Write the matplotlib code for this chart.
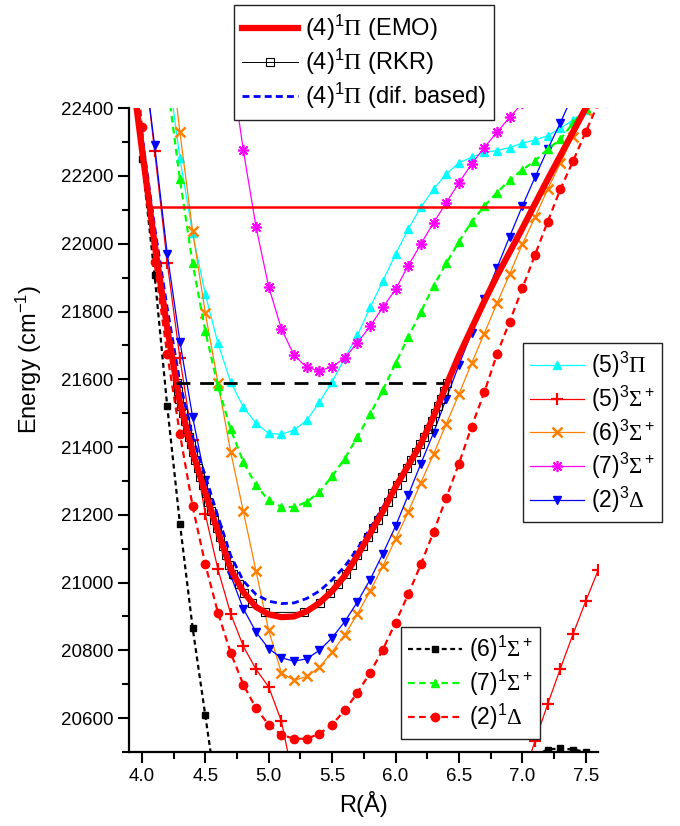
import numpy as np
import matplotlib
matplotlib.use("Agg")
import matplotlib.pyplot as plt
from matplotlib.lines import Line2D
from matplotlib.ticker import MultipleLocator, FormatStrFormatter

plt.rcParams["font.family"] = ["Liberation Sans", "DejaVu Sans"]
plt.rcParams["mathtext.fontset"] = "custom"
plt.rcParams["mathtext.rm"] = "Liberation Sans"
plt.rcParams["mathtext.it"] = "Liberation Sans:italic"
plt.rcParams["mathtext.bf"] = "Liberation Sans:bold"
plt.rcParams["mathtext.sf"] = "Liberation Serif"

nan = np.nan

# common R grid (Angstrom) for the computed curves
R_GRID = [3.9, 4.0, 4.1, 4.2, 4.3, 4.4, 4.5, 4.6, 4.7, 4.8, 4.9,
          5.0, 5.1, 5.2, 5.3, 5.4, 5.5, 5.6, 5.7, 5.8, 5.9,
          6.0, 6.1, 6.2, 6.3, 6.4, 6.5, 6.6, 6.7, 6.8, 6.9,
          7.0, 7.1, 7.2, 7.3, 7.4, 7.5, 7.6]

# (4)1Pi EMO potential
E_EMO = [22570, 22280, 22000, 21750, 21530, 21385, 21265, 21150, 21040, 20972, 20928,
         20906, 20898, 20900, 20915, 20940, 20975, 21020, 21080, 21145, 21210,
         21282, 21345, 21410, 21490, 21582, 21670, 21750, 21830, 21905, 21975,
         22045, 22118, 22190, 22260, 22330, 22400, 22470]

# (4)1Pi difference based
E_DIF = [22600, 22320, 22050, 21810, 21590, 21430, 21315, 21195, 21080, 21005, 20965,
         20945, 20938, 20940, 20953, 20975, 21008, 21048, 21100, 21160, 21222,
         21290, 21350, 21413, 21492, 21583, 21670, 21750, 21830, 21905, 21975,
         22045, 22118, 22190, 22260, 22330, 22400, 22470]

# (4)1Pi RKR turning points
RKR_E = [20912, 20941, 20969, 20997, 21025, 21053, 21080, 21107, 21134, 21160,
         21186, 21212, 21238, 21263, 21288, 21313, 21337, 21361, 21385, 21408,
         21431, 21454, 21477, 21499, 21521, 21543, 21565, 21588]
RKR_RMIN = [4.973, 4.870, 4.807, 4.763, 4.722, 4.688, 4.664, 4.639, 4.615, 4.591,
            4.569, 4.546, 4.523, 4.502, 4.481, 4.460, 4.440, 4.420, 4.400, 4.384,
            4.368, 4.352, 4.337, 4.321, 4.306, 4.294, 4.284, 4.274]
RKR_RMAX = [5.280, 5.403, 5.483, 5.549, 5.608, 5.655, 5.700, 5.742, 5.783, 5.823,
            5.863, 5.903, 5.939, 5.974, 6.010, 6.049, 6.087, 6.125, 6.162, 6.197,
            6.226, 6.255, 6.284, 6.310, 6.334, 6.358, 6.382, 6.407]

# ab initio curves
E_5_3PI = [nan, nan, nan, 22530, 22252, 22031, 21851, 21706, 21592, 21518, 21470,
           21440, 21438, 21450, 21479, 21533, 21592, 21663, 21730, 21812, 21890,
           21969, 22043, 22108, 22161, 22206, 22239, 22255, 22270, 22275, 22284,
           22297, 22306, 22319, 22341, 22365, 22395, nan]
E_5_3SIG = [nan, 22600, 22275, 21944, 21662, 21420, 21202, 21039, 20908, 20812, 20744,
            20692, 20591, 20410, nan, nan, nan, nan, nan, nan, nan,
            nan, nan, nan, nan, nan, nan, nan, nan, nan, nan,
            20420, 20532, 20641, 20746, 20848, 20945, 21038]
E_6_3SIG = [nan, nan, nan, 22650, 22329, 22038, 21796, 21590, 21386, 21210, 21034,
            20859, 20734, 20711, 20723, 20750, 20795, 20846, 20908, 20975, 21049,
            21128, 21208, 21295, 21379, 21468, 21556, 21647, 21735, 21824, 21910,
            21999, 22078, 22161, 22238, 22316, 22395, nan]
E_7_3SIG = [nan, nan, nan, nan, nan, nan, nan, nan, 22535, 22276, 22050,
            21873, 21749, 21671, 21635, 21625, 21637, 21663, 21708, 21757, 21812,
            21865, 21935, 21999, 22062, 22121, 22180, 22235, 22284, 22329, 22373,
            22415, nan, nan, nan, nan, nan, nan]
E_2_3DEL = [nan, 22590, 22291, 21970, 21711, 21489, 21304, 21154, 21021, 20923, 20854,
            20805, 20778, 20768, 20775, 20800, 20837, 20885, 20943, 21009, 21085,
            21166, 21258, 21351, 21442, 21543, 21642, 21737, 21836, 21929, 22021,
            22111, 22196, 22279, 22357, 22440, nan, nan]
E_6_1SIG = [22590, 22249, 21908, 21520, 21174, 20867, 20608, 20350, nan, nan, nan,
            nan, nan, nan, nan, nan, nan, nan, nan, nan, nan,
            nan, nan, nan, nan, nan, nan, nan, nan, nan, nan,
            nan, 20490, 20507, 20511, 20507, 20501, nan]
E_7_1SIG = [nan, nan, nan, 22475, 22190, 21942, 21742, 21580, 21452, 21356, 21287,
            21243, 21223, 21223, 21238, 21267, 21314, 21366, 21430, 21497, 21568,
            21647, 21724, 21799, 21875, 21942, 22006, 22065, 22111, 22151, 22188,
            22218, 22245, 22279, 22308, 22356, 22400, nan]
E_2_1DEL = [22760, 22345, 21945, 21674, 21439, 21225, 21054, 20911, 20793, 20699, 20629,
            20580, 20551, 20539, 20539, 20554, 20581, 20623, 20675, 20734, 20802,
            20882, 20965, 21054, 21149, 21250, 21351, 21460, 21561, 21674, 21770,
            21868, 21967, 22065, 22161, 22244, 22330, 22415]

# levels drawn as horizontal lines: (energy, R_inner, R_outer)
LEVEL_HI = (22108, 4.087, 7.084)
LEVEL_LO = (21588, 4.268, 6.386)

fig = plt.figure(figsize=(6.8, 8.26), dpi=100)
ax = fig.add_axes([0.190, 0.0896, 0.690, 0.7794])

R = np.array(R_GRID)

# triplets (thin solid)
ax.plot(R, E_5_3PI, color="#00FFFF", lw=0.9, marker="^", ms=6, zorder=2)
ax.plot(R, E_5_3SIG, color="#FF0000", lw=0.9, marker="+", ms=8, mew=1.6, zorder=2)
ax.plot(R, E_6_3SIG, color="#FF8000", lw=0.9, marker="x", ms=7, mew=1.8, zorder=2)
ax.plot(R, E_7_3SIG, color="#FF00FF", lw=0.9, marker=(8, 2, 0), ms=8, mew=1.2, zorder=2)
ax.plot(R, E_2_3DEL, color="#0000FF", lw=0.9, marker="v", ms=6, zorder=2)

# singlets (dashed)
ax.plot(R, E_6_1SIG, color="black", lw=1.6, ls=(0, (2.2, 1.6)), marker="s", ms=5, zorder=2)
ax.plot(R, E_7_1SIG, color="#00FF00", lw=1.6, ls=(0, (3, 2)), marker="^", ms=6, zorder=2)
ax.plot(R, E_2_1DEL, color="#FF0000", lw=1.6, ls=(0, (3, 2)), marker="o", ms=6, zorder=2)

# (4)1Pi
ax.plot(np.r_[RKR_RMIN[::-1], RKR_RMAX], np.r_[RKR_E[::-1], RKR_E],
        color="black", lw=0.7, marker="s", ms=6, mfc="none", mec="black", mew=0.8,
        zorder=3)
ax.plot(R, E_DIF, color="#0000FF", lw=2.0, ls=(0, (2.5, 1.5)), zorder=3.5)
ax.plot(R, E_EMO, color="#FF0000", lw=4.5, zorder=4, solid_capstyle="round")

ax.plot([LEVEL_HI[1], LEVEL_HI[2]], [LEVEL_HI[0]] * 2, color="#FF0000", lw=1.8, zorder=5)
ax.plot([LEVEL_LO[1], LEVEL_LO[2]], [LEVEL_LO[0]] * 2, color="black", lw=2.0,
        ls=(0, (5, 3.5)), zorder=5)

ax.set_xlim(3.9, 7.6)
ax.set_ylim(20500, 22400)
ax.xaxis.set_major_locator(MultipleLocator(0.5))
ax.xaxis.set_minor_locator(MultipleLocator(0.25))
ax.yaxis.set_major_locator(MultipleLocator(200))
ax.yaxis.set_minor_locator(MultipleLocator(100))
ax.xaxis.set_major_formatter(FormatStrFormatter("%.1f"))
for s in ("top", "right"):
    ax.spines[s].set_visible(False)
for s in ("left", "bottom"):
    ax.spines[s].set_linewidth(1.6)
ax.tick_params(which="major", direction="out", length=8, width=1.5, labelsize=13.5)
ax.tick_params(which="minor", direction="out", length=5, width=1.5)
ax.set_xlabel("R(Å)", fontsize=17, labelpad=4)
ax.set_ylabel("Energy (cm$^{-1}$)", fontsize=17)
ax.yaxis.set_label_coords(-0.182, 0.61)

leg_kw = dict(fontsize=16.5, frameon=True, fancybox=False, handlelength=2.35,
              borderpad=0.3, labelspacing=0.16, handletextpad=0.3,
              borderaxespad=0.0)


def L(**kw):
    return Line2D([], [], **kw)


h1 = [L(color="#FF0000", lw=4.5),
      L(color="black", lw=0.7, marker="s", ms=6, mfc="none", mec="black", mew=0.8),
      L(color="#0000FF", lw=2.0, ls=(0, (2.5, 1.5)))]
t1 = [r"(4)$^1\mathsf{\Pi}$ (EMO)", r"(4)$^1\mathsf{\Pi}$ (RKR)",
      r"(4)$^1\mathsf{\Pi}$ (dif. based)"]
leg1 = fig.legend(h1, t1, loc="upper left", bbox_to_anchor=(0.344, 0.994),
                  **dict(leg_kw, fontsize=17, borderpad=0.35))

h2 = [L(color="#00FFFF", lw=0.9, marker="^", ms=6),
      L(color="#FF0000", lw=0.9, marker="+", ms=8, mew=1.6),
      L(color="#FF8000", lw=0.9, marker="x", ms=7, mew=1.8),
      L(color="#FF00FF", lw=0.9, marker=(8, 2, 0), ms=8, mew=1.2),
      L(color="#0000FF", lw=0.9, marker="v", ms=6)]
t2 = [r"(5)$^3\mathsf{\Pi}$", r"(5)$^3\mathsf{\Sigma}^+$", r"(6)$^3\mathsf{\Sigma}^+$",
      r"(7)$^3\mathsf{\Sigma}^+$", r"(2)$^3\mathsf{\Delta}$"]
leg2 = fig.legend(h2, t2, loc="upper left", bbox_to_anchor=(0.769, 0.585), **leg_kw)

h3 = [L(color="black", lw=1.6, ls=(0, (2.2, 1.6)), marker="s", ms=5),
      L(color="#00FF00", lw=1.6, ls=(0, (3, 2)), marker="^", ms=6),
      L(color="#FF0000", lw=1.6, ls=(0, (3, 2)), marker="o", ms=6)]
t3 = [r"(6)$^1\mathsf{\Sigma}^+$", r"(7)$^1\mathsf{\Sigma}^+$", r"(2)$^1\mathsf{\Delta}$"]
leg3 = fig.legend(h3, t3, loc="upper left", bbox_to_anchor=(0.590, 0.241), **leg_kw)

for lg in (leg1, leg2, leg3):
    fr = lg.get_frame()
    fr.set_edgecolor("#222222")
    fr.set_linewidth(1.0)
    fr.set_alpha(1.0)

fig.savefig("out.png", dpi=100)
